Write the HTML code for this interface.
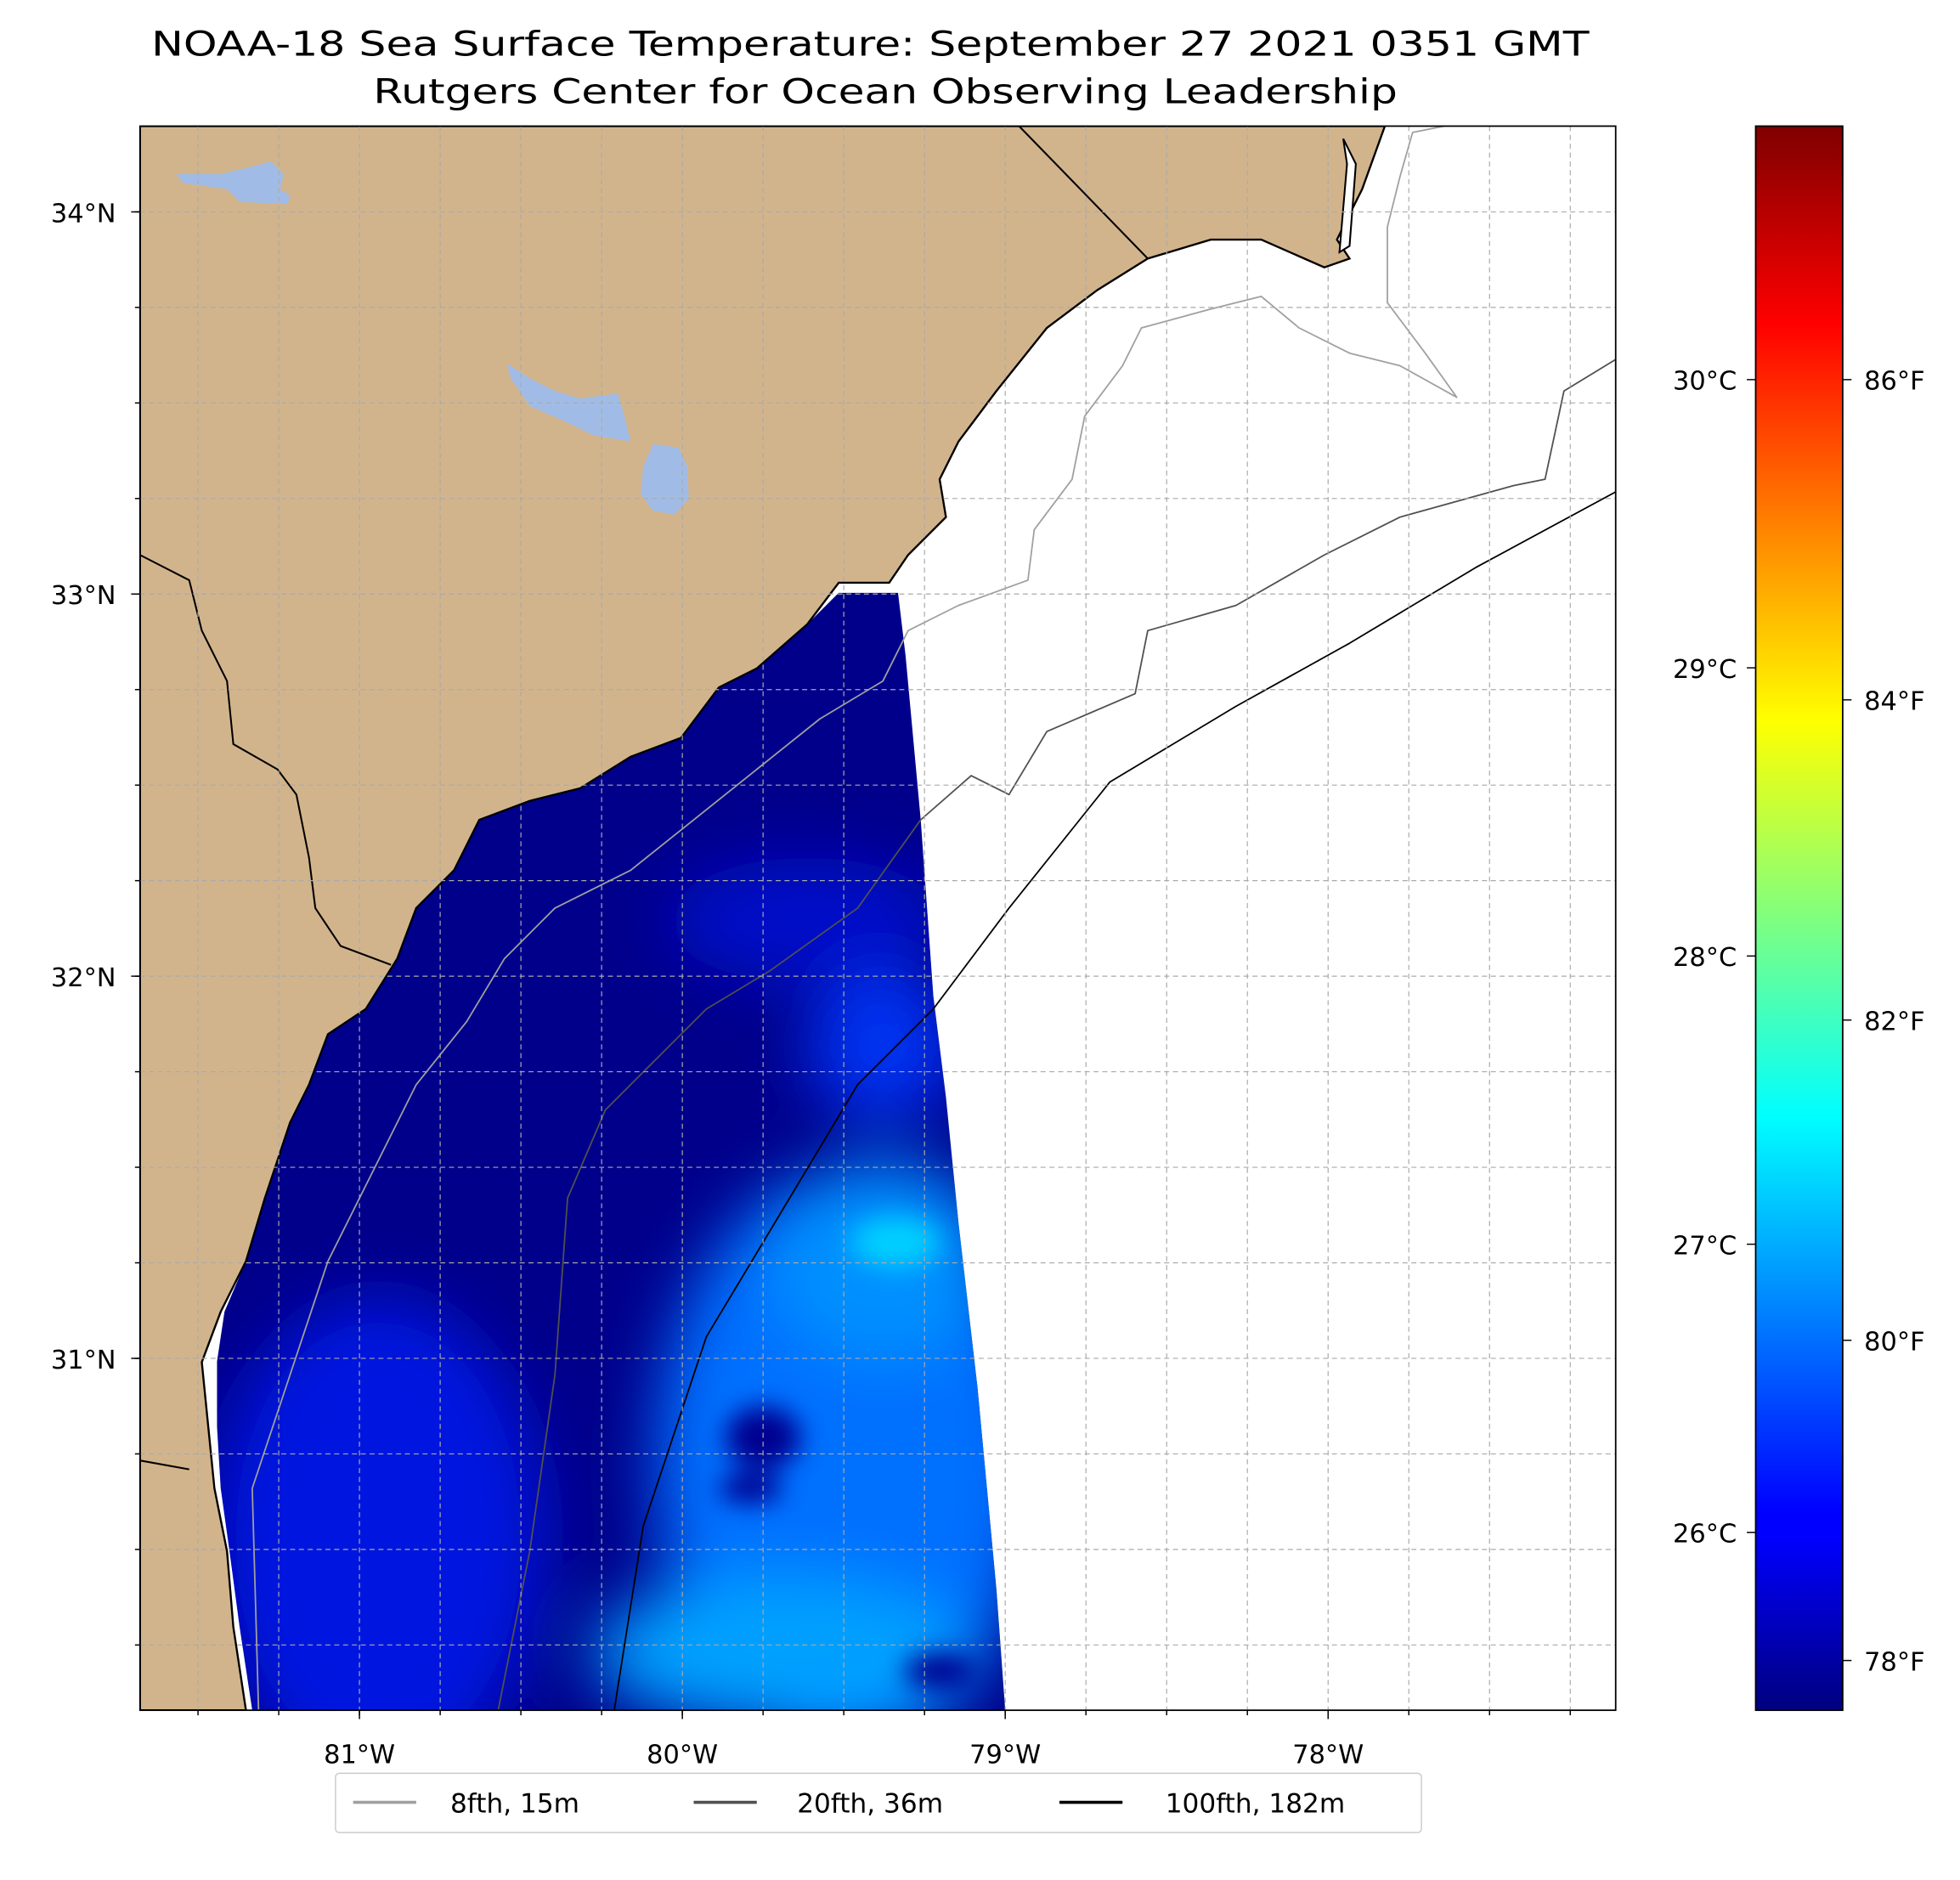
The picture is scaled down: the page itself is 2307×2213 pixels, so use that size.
<!DOCTYPE html>
<html><head><meta charset="utf-8"><style>
html,body{margin:0;padding:0;background:#fff}
svg{display:block;font-family:"DejaVu Sans","Liberation Sans",sans-serif}
</style></head><body>
<svg id="fig" width="2307" height="2213" viewBox="0 0 1554 1490.6" preserveAspectRatio="none">
<defs>
<linearGradient id="jet" x1="0" y1="1" x2="0" y2="0">
<stop offset="0" stop-color="#00007f"/><stop offset="0.11" stop-color="#0000ff"/>
<stop offset="0.125" stop-color="#0000ff"/><stop offset="0.375" stop-color="#00ffff"/>
<stop offset="0.625" stop-color="#ffff00"/><stop offset="0.875" stop-color="#ff0000"/>
<stop offset="1" stop-color="#7f0000"/></linearGradient>
<clipPath id="mapclip"><rect x="111" y="100" width="1170" height="1256"/></clipPath>
<clipPath id="sstclip"><polygon points="712,470 665,470 640,495 600,530 570,545 540,585 500,600 460,625 420,635 380,650 360,690 330,720 315,760 290,800 260,820 245,860 230,890 210,950 195,1000 178,1040 172,1080 172,1130 175,1180 182,1230 190,1290 200,1356 797,1356 790,1260 775,1100 760,970 750,870 740,790 730,650 718,520"/></clipPath>
<filter id="blur"><feGaussianBlur stdDeviation="25"/></filter>
<filter id="blur2"><feGaussianBlur stdDeviation="10"/></filter>
</defs>
<text x="690" y="44" font-size="27" text-anchor="middle" textLength="1140" lengthAdjust="spacingAndGlyphs">NOAA-18 Sea Surface Temperature: September 27 2021 0351 GMT</text>
<text x="702" y="82" font-size="27" text-anchor="middle" textLength="812" lengthAdjust="spacingAndGlyphs">Rutgers Center for Ocean Observing Leadership</text>
<g clip-path="url(#mapclip)">
<rect x="111" y="100" width="1170" height="1256" fill="#fff"/>
<g clip-path="url(#sstclip)">
<rect x="100" y="440" width="720" height="930" fill="#00008b"/>
<g filter="url(#blur)">
<ellipse cx="300" cy="1220" rx="130" ry="190" fill="#0018e0"/>
<ellipse cx="640" cy="730" rx="110" ry="50" fill="#0010c8"/>
<ellipse cx="700" cy="830" rx="60" ry="60" fill="#0030f0"/>
<ellipse cx="670" cy="1160" rx="150" ry="230" fill="#0070ff"/>
<ellipse cx="700" cy="1000" rx="90" ry="80" fill="#0090ff"/>
<ellipse cx="620" cy="1310" rx="150" ry="60" fill="#00a0ff"/>
</g>
<g filter="url(#blur2)">
<ellipse cx="710" cy="985" rx="35" ry="20" fill="#00d0ff"/>
<ellipse cx="605" cy="1140" rx="30" ry="25" fill="#000090"/>
<ellipse cx="595" cy="1180" rx="25" ry="12" fill="#000090"/>
<ellipse cx="745" cy="1325" rx="28" ry="14" fill="#000090"/>
</g>
</g>
<polygon fill="#d2b48c" stroke="#000" stroke-width="1.6" points="111,100 1098,100 1080,150 1060,190 1070,205 1050,212 1000,190 960,190 910,205 870,230 830,260 790,310 760,350 745,380 750,410 720,440 705,462 665,462 640,495 600,530 570,545 540,585 500,600 460,625 420,635 380,650 360,690 330,720 315,760 290,800 260,820 245,860 230,890 210,950 195,1000 175,1040 160,1080 165,1130 170,1180 180,1230 185,1290 195,1356 111,1356"/>
<polygon fill="#fff" stroke="#000" stroke-width="1.4" points="1065,110 1075,130 1070,195 1062,200 1068,130"/>
<g fill="#a0bce6">
<path d="M140,138 L175,138 L200,132 L215,128 L225,138 L222,150 L230,155 L228,162 L190,160 L180,150 L145,145 Z"/>
<path d="M402,288 L420,300 L440,310 L460,316 L490,312 L495,330 L500,350 L470,345 L450,335 L420,322 L405,300 Z"/>
<path d="M518,352 L538,355 L545,370 L546,395 L535,408 L518,405 L508,392 L510,370 Z"/>
</g>
<g fill="none" stroke-linejoin="round">
<polyline stroke="#000" stroke-width="1.4" points="808,100 910,205"/>
<polyline stroke="#000" stroke-width="1.4" points="111,440 150,460 160,500 180,540 185,590 220,610 235,630 245,680 250,720 270,750 310,765"/>
<polyline stroke="#000" stroke-width="1.4" points="111,1158 150,1165"/>
<polyline stroke="#a0a0a0" stroke-width="1.2" points="205,1356 200,1180 230,1090 260,1000 300,920 330,860 370,810 400,760 440,720 500,690 550,650 600,610 650,570 700,540 720,500 760,480 815,460 820,420 850,380 860,330 890,290 905,260 960,245 1000,235 1030,260 1070,280 1110,290 1155,315 1130,280 1100,240 1100,180 1110,140 1120,105 1145,100"/>
<polyline stroke="#505050" stroke-width="1.2" points="395,1356 420,1230 440,1090 450,950 480,880 520,840 560,800 610,770 680,720 730,650 770,615 800,630 830,580 900,550 910,500 980,480 1050,440 1110,410 1200,385 1225,380 1240,310 1281,285"/>
<polyline stroke="#000" stroke-width="1.2" points="487,1356 510,1210 560,1060 620,960 680,860 740,800 800,720 880,620 980,560 1070,510 1170,450 1281,390"/>
</g>
<g id="grid"></g>
</g>
<rect x="111" y="100" width="1170" height="1256" fill="none" stroke="#000" stroke-width="1.2"/>
<g id="axes" font-size="20.5"></g>
<rect x="1392" y="100" width="69" height="1256" fill="url(#jet)" stroke="#000" stroke-width="1.2"/>
<g font-size="21">
<rect x="266" y="1406" width="861" height="47" rx="3" fill="#fff" stroke="#ccc"/>
<line x1="280" y1="1429" x2="330" y2="1429" stroke="#a0a0a0" stroke-width="2.5"/>
<text x="357" y="1437">8fth, 15m</text>
<line x1="550" y1="1429" x2="600" y2="1429" stroke="#505050" stroke-width="2.5"/>
<text x="632" y="1437">20fth, 36m</text>
<line x1="840" y1="1429" x2="890" y2="1429" stroke="#000" stroke-width="2.5"/>
<text x="924" y="1437">100fth, 182m</text>
</g>
</svg>
<script>
const lonTicks=[-81,-80,-79,-78];
const lonLabels=["81°W","80°W","79°W","78°W"];
const latTicks=[34,33,32,31];
const latLabels=["34°N","33°N","32°N","31°N"];
const cTicks=[30,29,28,27,26];
const cLabels=["30°C","29°C","28°C","27°C","26°C"];
const fTicks=[86,84,82,80,78];
const fLabels=["86°F","84°F","82°F","80°F","78°F"];
const NS="http://www.w3.org/2000/svg";
function xLon(l){return 285+(l+81)*256;}
function yLat(l){return 168+(34-l)*303;}
function yC(c){return 1215-(c-26)*228.5;}
function yF(f){return yC((f-32)*5/9);}
function mk(t,a,p){const e=document.createElementNS(NS,t);for(const k in a)e.setAttribute(k,a[k]);p.appendChild(e);return e;}
const grid=document.getElementById('grid'),axes=document.getElementById('axes');
for(let l=-81.75;l<=-77;l+=0.25){const x=xLon(l);if(x<111||x>1281)continue;
 const g=mk('line',{x1:x,y1:100,x2:x,y2:1356,stroke:'#aaa','stroke-width':0.8,'stroke-dasharray':'4,3'},grid);
 
 
 const t=mk('line',{x1:x,y1:1356,x2:x,y2:1360,stroke:'#000'},axes);
 
 }
for(let l=34.25;l>=30;l-=0.25){const y=yLat(l);if(y<100||y>1356)continue;
 const g=mk('line',{x1:111,y1:y,x2:1281,y2:y,stroke:'#aaa','stroke-width':0.8,'stroke-dasharray':'4,3'},grid);
 
 
 const t=mk('line',{x1:107,y1:y,x2:111,y2:y,stroke:'#000'},axes);
 
 }
lonTicks.forEach((l,i)=>{const x=xLon(l);
 mk('line',{x1:x,y1:1356,x2:x,y2:1363,stroke:'#000'},axes);
 const t=mk('text',{x:x,y:1398,'text-anchor':'middle'},axes);t.textContent=lonLabels[i];
 
 });
latTicks.forEach((l,i)=>{const y=yLat(l);
 mk('line',{x1:104,y1:y,x2:111,y2:y,stroke:'#000'},axes);
 const t=mk('text',{x:92,y:y+8,'text-anchor':'end'},axes);t.textContent=latLabels[i];
 
 });
cTicks.forEach((c,i)=>{const y=yC(c);
 mk('line',{x1:1385,y1:y,x2:1392,y2:y,stroke:'#000'},axes);
 const t=mk('text',{x:1377,y:y+8,'text-anchor':'end'},axes);t.textContent=cLabels[i];
 
 });
fTicks.forEach((f,i)=>{const y=yF(f);
 mk('line',{x1:1461,y1:y,x2:1468,y2:y,stroke:'#000'},axes);
 const t=mk('text',{x:1478,y:y+8},axes);t.textContent=fLabels[i];
 
 });
</script>
</body></html>
